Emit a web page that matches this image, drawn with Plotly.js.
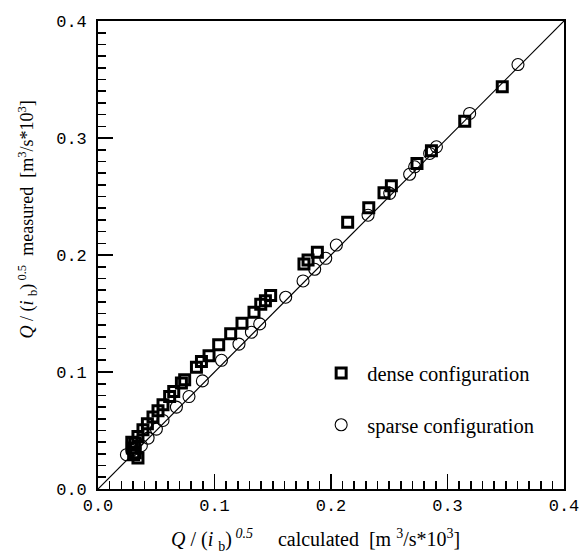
<!DOCTYPE html>
<html>
<head>
<meta charset="utf-8">
<script src="https://cdn.plot.ly/plotly-3.0.1.min.js"></script>
<style>html,body{margin:0;padding:0;background:#fff;}#chart{width:587px;height:559px;}</style>
</head>
<body>
<div id="chart"></div>
<script>
// Dense configuration (squares): calculated vs measured
const denseX = [0.347, 0.3148, 0.2862, 0.2738, 0.2518, 0.2455, 0.2324, 0.2143,
  0.1883, 0.1803, 0.1768, 0.1482, 0.1437, 0.1397, 0.1339, 0.1236, 0.1139, 0.1036,
  0.0953, 0.0888, 0.0845, 0.0744, 0.0716, 0.065, 0.0615, 0.0558, 0.0515, 0.0472,
  0.0424, 0.0386, 0.0343, 0.0315, 0.0295, 0.0306, 0.0343, 0.032, 0.029];
const denseY = [0.3437, 0.3144, 0.289, 0.2783, 0.2592, 0.2532, 0.2404, 0.228,
  0.2023, 0.1957, 0.1923, 0.1653, 0.161, 0.1579, 0.1511, 0.1417, 0.1326, 0.1232,
  0.1138, 0.1089, 0.1041, 0.0933, 0.0905, 0.0833, 0.079, 0.072, 0.0668, 0.0615,
  0.0557, 0.0506, 0.0449, 0.0393, 0.035, 0.0293, 0.0265, 0.031, 0.04];
// Sparse configuration (circles)
const sparseX = [0.3605, 0.319, 0.2905, 0.2847, 0.2718, 0.2675, 0.2504, 0.2318,
  0.2046, 0.1955, 0.186, 0.176, 0.1611, 0.1388, 0.1317, 0.121, 0.106,
  0.0896, 0.0781, 0.0673, 0.0558, 0.0501, 0.043, 0.0372, 0.0244, 0.029, 0.033];
const sparseY = [0.3628, 0.321, 0.2925, 0.2868, 0.2754, 0.269, 0.2527, 0.234,
  0.2085, 0.1972, 0.1878, 0.1778, 0.1639, 0.1411, 0.134, 0.1238, 0.11,
  0.0924, 0.079, 0.07, 0.0586, 0.0512, 0.0435, 0.037, 0.0293, 0.033, 0.04];
// 1:1 reference line
const lineX = [0, 0.4];
const lineY = [0, 0.4];
const tickVals = [0, 0.1, 0.2, 0.3, 0.4];
const tickText = ['0.0', '0.1', '0.2', '0.3', '0.4'];
const xTitle = '<i>Q</i> / (<i>i</i> <sub>b</sub>)<sup> <i>0.5</i></sup>     calculated  [m <sup>3</sup>/s*10<sup>3</sup>]';
const yTitle = '<i>Q</i> / (<i>i</i> <sub>b</sub>)<sup> 0.5</sup>  measured  [m<sup>3</sup>/s*10<sup>3</sup>]';

const SERIF = 'Liberation Serif';
const MONO = 'Liberation Mono';

const traces = [
  {x: lineX, y: lineY, mode: 'lines', line: {color: '#000', width: 1.2}, showlegend: false, hoverinfo: 'skip'},
  {x: sparseX, y: sparseY, mode: 'markers', name: 'sparse configuration', legendgroup: 'b', legendrank: 2,
   marker: {symbol: 'circle-open', size: 12, color: '#000', line: {width: 1.1, color: '#000'}}},
  {x: denseX, y: denseY, mode: 'markers', name: 'dense configuration', legendgroup: 'a', legendrank: 1,
   marker: {symbol: 'square-open', size: 10, color: '#000', line: {width: 3, color: '#000'}}}
];

const axisCommon = {
  range: [0, 0.4], tickvals: tickVals, ticktext: tickText,
  ticks: 'inside', ticklen: 15, tickwidth: 1.6, tickcolor: '#000',
  minor: {dtick: 0.01, tick0: 0, ticks: 'inside', ticklen: 8, tickwidth: 1.6, tickcolor: '#000'},
  showline: true, linecolor: '#000', linewidth: 1.8, mirror: true,
  showgrid: false, zeroline: false,
  tickfont: {family: MONO, size: 17, color: '#000'}
};

const layout = {
  width: 587, height: 559,
  margin: {l: 98, r: 23, t: 21, b: 70},
  paper_bgcolor: '#fff', plot_bgcolor: '#fff',
  font: {family: SERIF, size: 20, color: '#000'},
  xaxis: Object.assign({}, axisCommon, {title: {text: ''}, ticklabelstandoff: 0}),
  yaxis: Object.assign({}, axisCommon, {title: {text: ''}, ticklabelstandoff: 6}),
  showlegend: true,
  legend: {
    x: 0.466, y: 0.29, xanchor: 'left', yanchor: 'top',
    traceorder: 'grouped', tracegroupgap: 22, itemwidth: 42,
    bgcolor: 'rgba(0,0,0,0)', borderwidth: 0,
    font: {family: SERIF, size: 20.5, color: '#000'}
  },
  annotations: [{
    text: yTitle,
    xref: 'paper', yref: 'paper', x: -0.151, y: 0.575, xanchor: 'center', yanchor: 'middle',
    textangle: -90, showarrow: false,
    font: {family: SERIF, size: 18, color: '#000'}
  }, {
    text: xTitle,
    xref: 'paper', yref: 'paper', x: 0.466, y: -0.108, xanchor: 'center', yanchor: 'middle',
    showarrow: false,
    font: {family: SERIF, size: 20, color: '#000'}
  }]
};

Plotly.newPlot('chart', traces, layout, {displayModeBar: false, staticPlot: true});
</script>
</body>
</html>
